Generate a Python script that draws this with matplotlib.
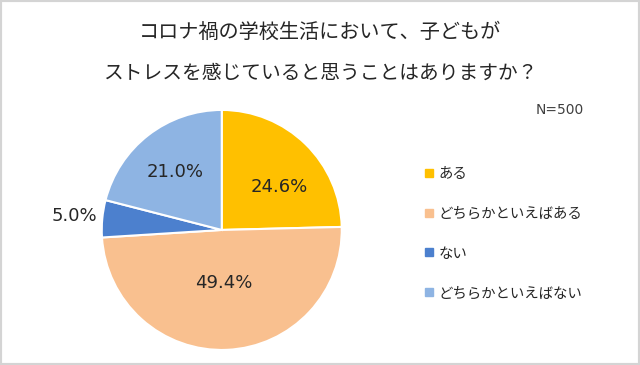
import numpy as np
import matplotlib
matplotlib.use("Agg")
import matplotlib.pyplot as plt
from matplotlib.lines import Line2D
from matplotlib.patches import Rectangle

plt.rcParams['font.family'] = ['Noto Sans CJK JP', 'DejaVu Sans']

labels = ['ある', 'どちらかといえばある', 'ない', 'どちらかといえばない']
values = [24.6, 49.4, 5.0, 21.0]
colors = ['#FFC000', '#F9C08F', '#4C80CE', '#8EB4E3']
# label placement: radius (fraction of pie radius) and angle shift from mid angle
label_r = [0.60, 0.44, 1.23, 0.62]
label_dang = [-9, 0, 0, 1]

title_1 = 'コロナ禍の学校生活において、子どもが'
title_2 = 'ストレスを感じていると思うことはありますか？'

fig = plt.figure(figsize=(6.4, 3.65), dpi=100)
fig.patches.append(Rectangle((0, 0), 1, 1, transform=fig.transFigure,
                             fill=False, edgecolor='#D4D4D4', linewidth=3))

ax = fig.add_axes([0.159, 0.041, 0.375, 0.658])
wedges, _ = ax.pie(values, colors=colors, startangle=90, counterclock=False,
                   wedgeprops=dict(edgecolor='white', linewidth=1.5))
ax.set_xlim(-1, 1)
ax.set_ylim(-1, 1)
ax.set_aspect('equal')

for w, v, r, da in zip(wedges, values, label_r, label_dang):
    ang = np.deg2rad((w.theta1 + w.theta2) / 2 + da)
    ax.text(r * np.cos(ang), r * np.sin(ang), f'{v:.1f}%',
            ha='center', va='center', fontsize=13, color='#262626',
            family='DejaVu Sans', clip_on=False)

fig.text(0.5, 0.910, title_1, ha='center', va='center', fontsize=14.5, color='#262626')
fig.text(0.5, 0.800, title_2, ha='center', va='center', fontsize=14.2, color='#262626')
fig.text(0.875, 0.699, 'N=500', ha='center', va='center', fontsize=10,
         color='#404040', family='DejaVu Sans')

handles = [Line2D([], [], marker='s', linestyle='none', markersize=6,
                  markerfacecolor=c, markeredgecolor=c) for c in colors]
fig.legend(handles, labels, loc='upper left', bbox_to_anchor=(0.655, 0.558),
           frameon=False, fontsize=10.4, labelspacing=1.78, handlelength=0.6,
           handletextpad=0.35, borderaxespad=0, labelcolor='#262626')

fig.savefig('out.png', dpi=100)
